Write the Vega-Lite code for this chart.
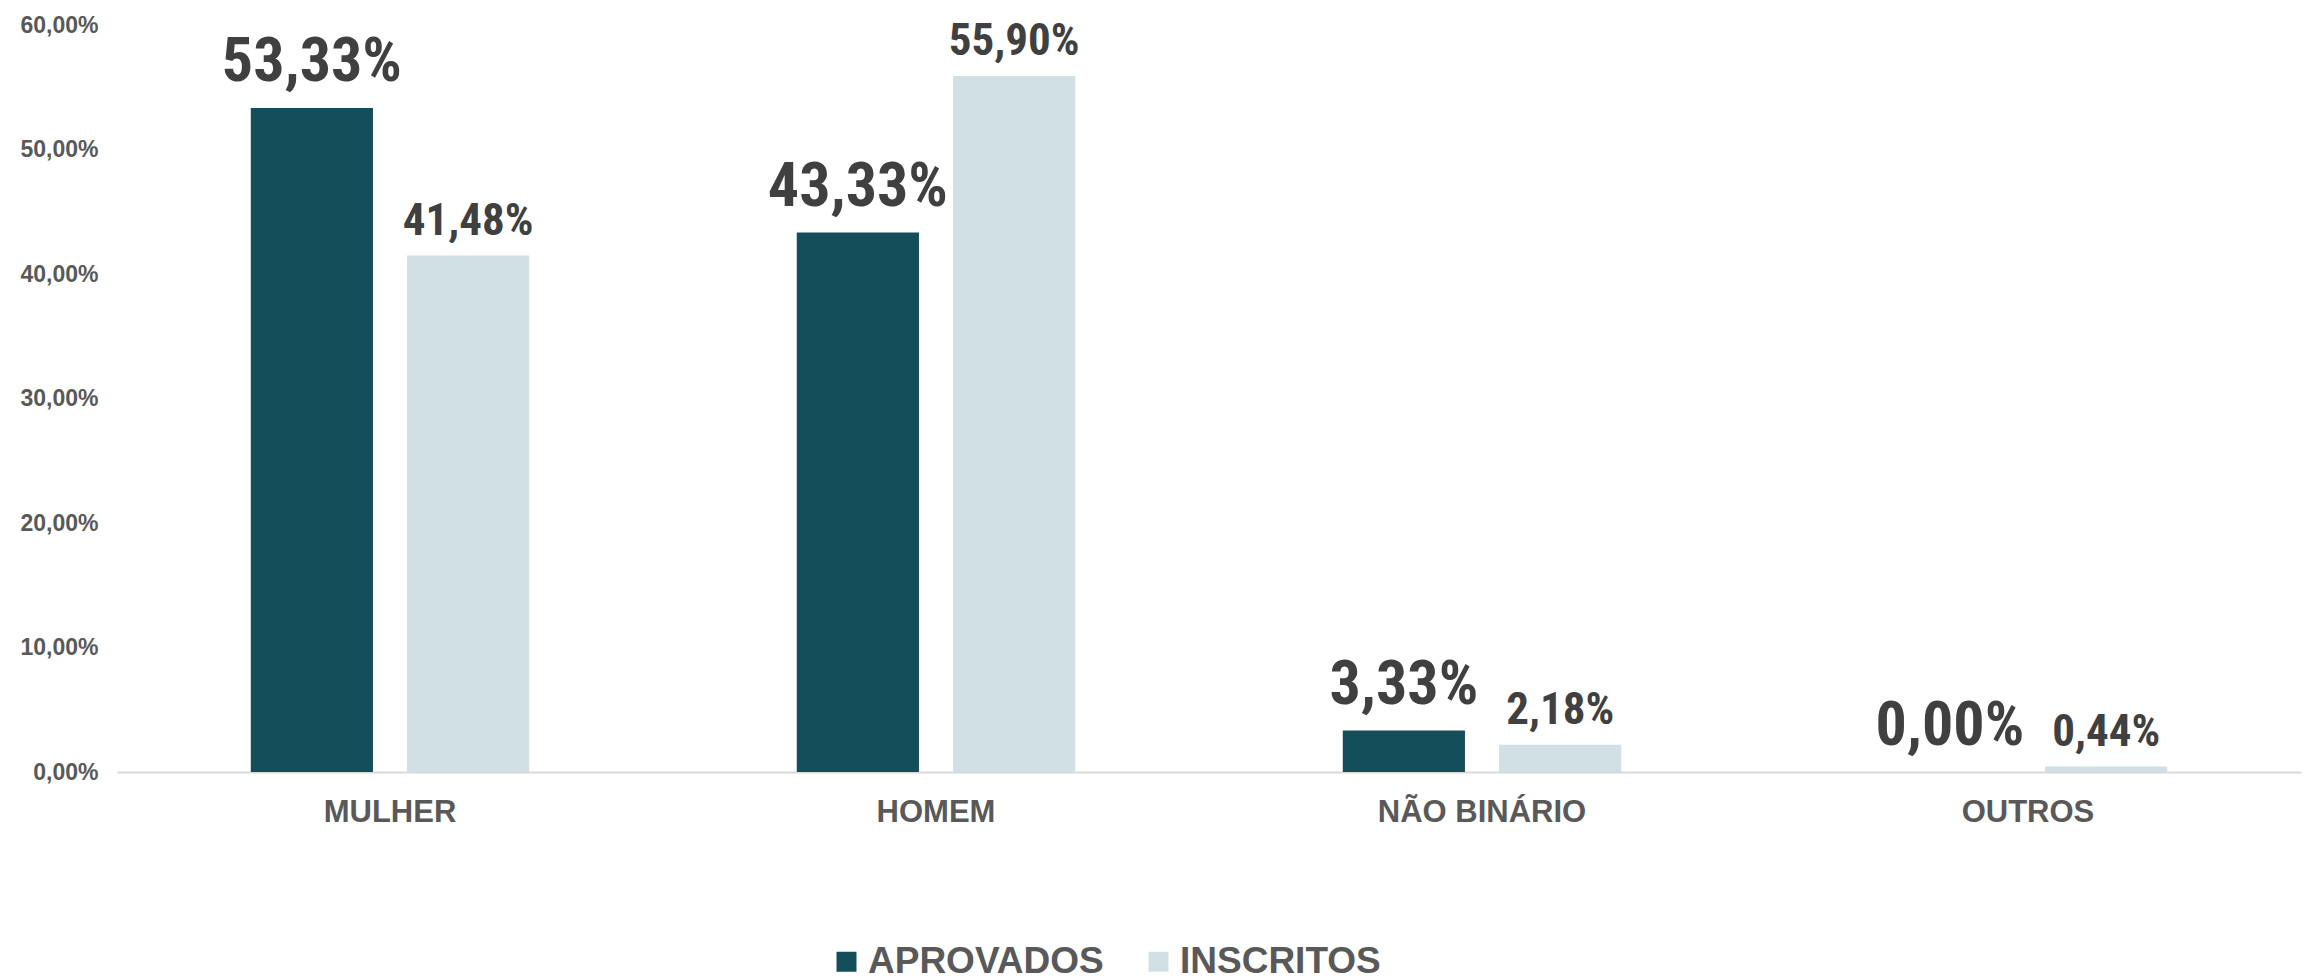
{
  "$schema": "https://vega.github.io/schema/vega-lite/v6.json",
  "autosize": "none",
  "width": 2184,
  "height": 747,
  "padding": {"left": 117, "top": 25, "right": 4, "bottom": 208},
  "background": "white",
  "config": {
    "view": {"stroke": null},
    "locale": {"number": {"decimal": ",", "thousands": ".", "grouping": [3], "currency": ["R$", ""]}}
  },
  "data": {
    "values": [
      {"categoria": "MULHER", "grupo": "APROVADOS", "valor": 0.5333},
      {"categoria": "MULHER", "grupo": "INSCRITOS", "valor": 0.4148},
      {"categoria": "HOMEM", "grupo": "APROVADOS", "valor": 0.4333},
      {"categoria": "HOMEM", "grupo": "INSCRITOS", "valor": 0.5590},
      {"categoria": "NÃO BINÁRIO", "grupo": "APROVADOS", "valor": 0.0333},
      {"categoria": "NÃO BINÁRIO", "grupo": "INSCRITOS", "valor": 0.0218},
      {"categoria": "OUTROS", "grupo": "APROVADOS", "valor": 0.0},
      {"categoria": "OUTROS", "grupo": "INSCRITOS", "valor": 0.0044}
    ]
  },
  "encoding": {
    "x": {
      "field": "categoria", "type": "nominal", "sort": null,
      "scale": {"paddingInner": 0.49, "paddingOuter": 0.245},
      "axis": {
        "title": null, "labelAngle": 0, "ticks": false,
        "domainColor": "#d9d9d9", "domainWidth": 2,
        "labelFont": "Liberation Sans", "labelFontWeight": "bold", "labelFontSize": 31,
        "labelColor": "#595959", "labelPadding": 25, "labelLimit": 500
      }
    },
    "xOffset": {
      "field": "grupo", "type": "nominal",
      "scale": {"domain": ["APROVADOS", "INSCRITOS"], "paddingInner": 0.218, "paddingOuter": 0}
    },
    "y": {
      "field": "valor", "type": "quantitative",
      "scale": {"domain": [0, 0.6], "nice": false},
      "axis": {
        "title": null, "format": ".2%", "values": [0, 0.1, 0.2, 0.3, 0.4, 0.5, 0.6],
        "domain": false, "ticks": false, "grid": false,
        "labelFont": "Liberation Sans", "labelFontWeight": "bold", "labelFontSize": 23,
        "labelColor": "#595959", "labelPadding": 19
      }
    }
  },
  "layer": [
    {
      "mark": {"type": "bar"},
      "encoding": {
        "color": {
          "field": "grupo", "type": "nominal",
          "scale": {"domain": ["APROVADOS", "INSCRITOS"], "range": ["#154e5b", "#d1e0e4"]},
          "legend": {
            "title": null, "orient": "none", "direction": "horizontal",
            "legendX": 711, "legendY": 918,
            "symbolType": "square", "symbolSize": 400, "symbolStrokeWidth": 0,
            "labelFont": "Liberation Sans", "labelFontWeight": "bold", "labelFontSize": 37,
            "labelColor": "#595959", "labelOffset": 3, "columnPadding": 36,
            "labelLimit": 500
          }
        }
      }
    },
    {
      "transform": [{"filter": "datum.grupo === 'APROVADOS'"}],
      "mark": {
        "type": "text", "baseline": "alphabetic", "dy": -27,
        "font": "Roboto Condensed, Roboto, sans-serif",
        "fontWeight": "bold", "fontSize": 62, "color": "#404040"
      },
      "encoding": {"text": {"field": "valor", "type": "quantitative", "format": ".2%"}}
    },
    {
      "transform": [{"filter": "datum.grupo === 'INSCRITOS'"}],
      "mark": {
        "type": "text", "baseline": "alphabetic", "dy": -21,
        "font": "Roboto Condensed, Roboto, sans-serif",
        "fontWeight": "bold", "fontSize": 45, "color": "#404040"
      },
      "encoding": {"text": {"field": "valor", "type": "quantitative", "format": ".2%"}}
    }
  ]
}
